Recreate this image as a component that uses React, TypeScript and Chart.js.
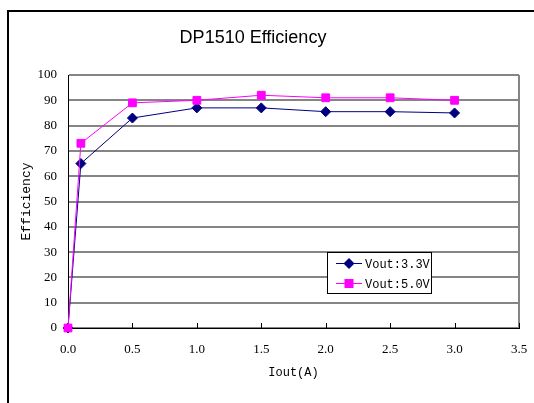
import { useEffect, useRef } from 'react';
import { Chart, registerables } from 'chart.js';
Chart.register(...registerables);

const iout = [0, 0.1, 0.5, 1.0, 1.5, 2.0, 2.5, 3.0];
const eff33 = [0, 65, 83, 87, 87, 85.5, 85.5, 85];
const eff50 = [0, 73, 89, 90, 92, 91, 91, 90];
const seriesLabels = ['Vout:3.3V', 'Vout:5.0V'];
const titleText = 'DP1510 Efficiency';
const xTitle = 'Iout(A)';
const yTitle = 'Efficiency';

const NAVY = '#000080';
const MAGENTA = '#FF00FF';
const GRID = '#858585';

const decor = {
  id: 'decor',
  beforeDraw(chart: any) {
    const { ctx } = chart;
    ctx.save();
    ctx.fillStyle = '#fff';
    ctx.fillRect(0, 0, chart.width, chart.height);
    ctx.strokeStyle = '#000';
    ctx.lineWidth = 2;
    ctx.beginPath();
    ctx.moveTo(8, chart.height);
    ctx.lineTo(8, 11);
    ctx.lineTo(chart.width, 11);
    ctx.stroke();
    ctx.fillStyle = '#000';
    ctx.font = '18px "Liberation Sans", Arial, sans-serif';
    ctx.textAlign = 'center';
    ctx.textBaseline = 'middle';
    ctx.fillText(titleText, 253, 38);
    ctx.restore();
  },
  beforeDatasetsDraw(chart: any) {
    const { ctx, chartArea } = chart;
    const xs = chart.scales.x;
    ctx.save();
    ctx.strokeStyle = '#000';
    ctx.lineWidth = 1;
    xs.ticks.forEach((t: any) => {
      if (t.value <= 0) return;
      const px = Math.round(xs.getPixelForValue(t.value)) + 0.5;
      ctx.beginPath();
      ctx.moveTo(px, chartArea.bottom);
      ctx.lineTo(px, chartArea.bottom - 5);
      ctx.stroke();
    });
    ctx.restore();
  },
  afterDraw(chart: any) {
    const { ctx, chartArea } = chart;
    const bx = Math.round(chartArea.right - 192);
    const by = Math.round(chartArea.bottom - 76);
    const w = 104;
    const h = 41;
    ctx.save();
    ctx.fillStyle = '#fff';
    ctx.fillRect(bx, by, w, h);
    ctx.strokeStyle = '#000';
    ctx.lineWidth = 1;
    ctx.strokeRect(bx + 0.5, by + 0.5, w, h);
    const rows = [
      { label: seriesLabels[0], color: NAVY, shape: 'diamond' },
      { label: seriesLabels[1], color: MAGENTA, shape: 'square' },
    ];
    rows.forEach((r, i) => {
      const y = by + 11.5 + i * 20;
      ctx.strokeStyle = r.color;
      ctx.beginPath();
      ctx.moveTo(bx + 9, y);
      ctx.lineTo(bx + 35, y);
      ctx.stroke();
      ctx.fillStyle = r.color;
      const cx = bx + 22;
      if (r.shape === 'diamond') {
        ctx.beginPath();
        ctx.moveTo(cx, y - 5.5);
        ctx.lineTo(cx + 5.5, y);
        ctx.lineTo(cx, y + 5.5);
        ctx.lineTo(cx - 5.5, y);
        ctx.closePath();
        ctx.fill();
      } else {
        ctx.fillRect(cx - 4.5, y - 4.5, 9, 9);
      }
      ctx.fillStyle = '#000';
      ctx.font = '12px "Liberation Mono", monospace';
      ctx.textAlign = 'left';
      ctx.textBaseline = 'middle';
      ctx.fillText(r.label, bx + 38, y + 1);
    });
    ctx.restore();
  },
};

export default function App() {
  const ref = useRef<HTMLCanvasElement | null>(null);
  useEffect(() => {
    if (!ref.current) return;
    const tickFont = { family: '"Liberation Serif", serif', size: 13 };
    const chart = new Chart(ref.current, {
      type: 'line',
      data: {
        datasets: [
          {
            label: seriesLabels[0],
            data: iout.map((x, i) => ({ x, y: eff33[i] })),
            borderColor: NAVY,
            backgroundColor: NAVY,
            borderWidth: 1,
            pointStyle: 'rectRot',
            pointRadius: 5,
            pointBorderWidth: 1,
            pointBorderColor: NAVY,
            pointBackgroundColor: NAVY,
            tension: 0,
            order: 1,
            clip: false,
          } as any,
          {
            label: seriesLabels[1],
            data: iout.map((x, i) => ({ x, y: eff50[i] })),
            borderColor: MAGENTA,
            backgroundColor: MAGENTA,
            borderWidth: 1,
            pointStyle: 'rect',
            pointRadius: 5.5,
            pointBorderWidth: 1,
            pointBorderColor: MAGENTA,
            pointBackgroundColor: MAGENTA,
            tension: 0,
            order: 0,
            clip: false,
          } as any,
        ],
      },
      options: {
        responsive: false,
        animation: false,
        devicePixelRatio: 1,
        layout: { padding: { left: 0, top: 75, right: 15, bottom: 0 } },
        plugins: {
          legend: { display: false },
          tooltip: { enabled: false },
          title: { display: false },
        },
        scales: {
          x: {
            type: 'linear',
            min: 0,
            max: 3.5,
            ticks: {
              stepSize: 0.5,
              callback: (v: any) => Number(v).toFixed(1),
              font: tickFont,
              color: '#000',
              padding: 14,
              maxRotation: 0,
              autoSkip: false,
            },
            grid: {
              drawTicks: false,
              lineWidth: 2,
              color: (c: any) => (c.tick && c.tick.value === 3.5 ? GRID : 'rgba(0,0,0,0)'),
            },
            border: { color: '#000', width: 1 },
            title: {
              display: true,
              text: xTitle,
              font: { family: '"Liberation Mono", monospace', size: 12 },
              color: '#000',
              padding: { top: 0, bottom: 23 },
            },
            afterFit: (s: any) => {
              s.height = 75;
              s.paddingRight = 0;
              s.paddingLeft = 0;
            },
          },
          y: {
            min: 0,
            max: 100,
            ticks: { stepSize: 10, font: tickFont, color: '#000', padding: 11 },
            grid: { drawTicks: false, color: GRID, lineWidth: 2 },
            border: { color: '#000', width: 1 },
            title: {
              display: true,
              text: yTitle,
              font: { family: '"Liberation Mono", monospace', size: 13 },
              color: '#000',
              padding: { top: 19, bottom: 0 },
            },
            afterFit: (s: any) => {
              s.width = 68;
            },
          },
        } as any,
      },
      plugins: [decor],
    });
    return () => chart.destroy();
  }, []);
  return (
    <div style={{ position: 'absolute', left: 0, top: 0 }}>
      <canvas ref={ref} width={534} height={403} style={{ width: 534, height: 403, display: 'block' }} />
    </div>
  );
}
